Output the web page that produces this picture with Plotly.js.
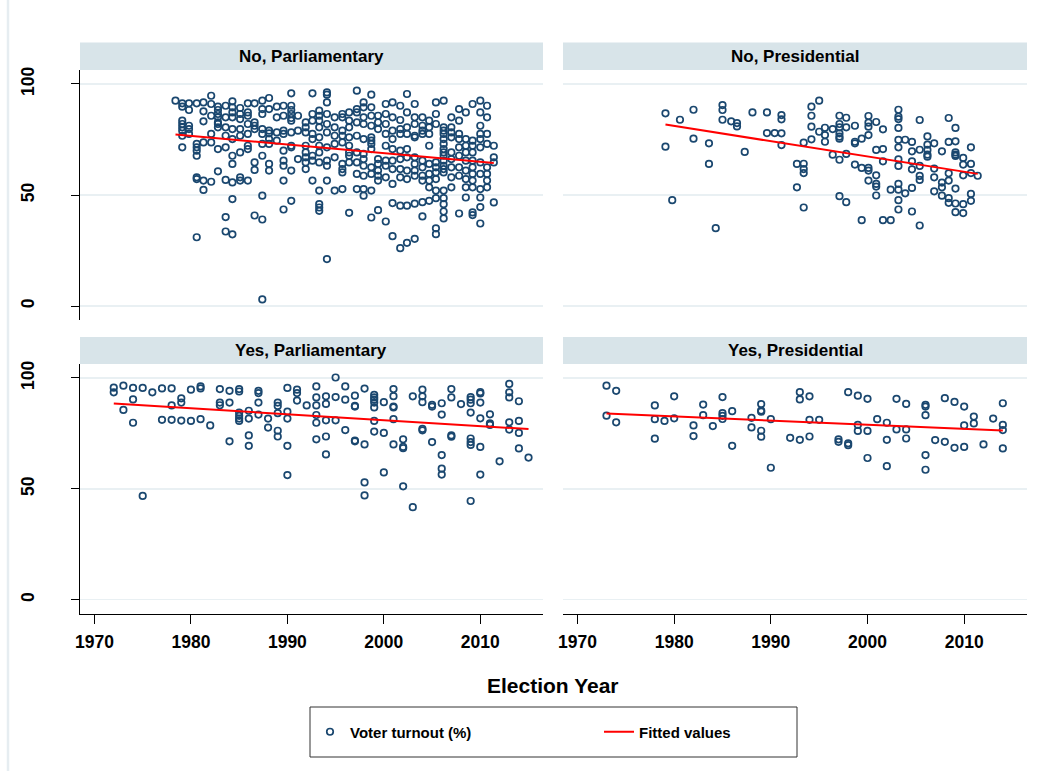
<!DOCTYPE html>
<html>
<head>
<meta charset="utf-8">
<script src="https://cdn.plot.ly/plotly-3.0.1.min.js"></script>
<style>
  html, body { margin: 0; padding: 0; background: #ffffff; }
  #chart { width: 1050px; height: 771px; }
</style>
</head>
<body>
<div id="chart"></div>
<script>
// ---------------- DATA ----------------
const panelTitles = ["No, Parliamentary", "No, Presidential", "Yes, Parliamentary", "Yes, Presidential"];
const xTickVals = [1970, 1980, 1990, 2000, 2010];
const yTickVals = [0, 50, 100];
const xTitle = "Election Year";
const scatterName = "Voter turnout (%)";
const fitName = "Fitted values";

// No, Parliamentary : election years and turnout values at each year
const npYears = [1978.4, 1979.1, 1979.8, 1980.6, 1981.3, 1982.1, 1982.8, 1983.6, 1984.3, 1985.1,
  1985.9, 1986.6, 1987.4, 1988.1, 1988.9, 1989.6, 1990.4, 1991.1, 1991.9, 1992.6,
  1993.3, 1994.1, 1994.9, 1995.7, 1996.4, 1997.2, 1997.9, 1998.7, 1999.4, 2000.2,
  2000.9, 2001.7, 2002.4, 2003.2, 2004.0, 2004.7, 2005.4, 2006.2, 2007.0, 2007.8,
  2008.5, 2009.2, 2010.0, 2010.7, 2011.4];
const npTurnout = [
  [92.5],
  [91.3, 89.8, 83.5, 82.0, 80.5, 79.0, 76.7, 71.5],
  [91.3, 88.3, 81.2, 79.7, 77.5],
  [91.3, 73.0, 71.5, 70.0, 67.7, 58.0, 57.2, 31.0],
  [91.7, 87.7, 83.2, 73.7, 56.5, 52.3],
  [94.7, 91.0, 85.7, 77.5, 73.7, 56.0],
  [89.8, 88.3, 86.5, 85.0, 82.7, 82.0, 80.5, 70.7, 60.7],
  [90.2, 85.0, 80.5, 76.7, 71.5, 56.8, 40.1, 33.6],
  [92.2, 89.5, 87.2, 85.0, 79.7, 75.2, 67.7, 64.0, 55.7, 48.2, 32.3],
  [89.2, 86.5, 84.2, 79.7, 76.7, 69.2, 58.0, 56.5],
  [91.3, 87.2, 85.7, 82.0, 77.5, 72.2, 70.7, 56.5],
  [91.3, 82.7, 81.2, 79.7, 64.7, 61.3, 40.8],
  [92.5, 88.7, 86.5, 79.7, 77.5, 73.0, 67.7, 49.7, 39.0, 3.0],
  [93.7, 88.7, 79.0, 77.8, 75.2, 73.0, 64.0, 61.0],
  [89.8, 85.0, 78.2, 74.5],
  [90.2, 85.7, 79.0, 77.5, 70.0, 65.5, 63.2, 56.5, 43.5],
  [95.8, 90.2, 88.3, 86.5, 84.7, 83.5, 78.2, 72.2, 71.5, 61.0, 47.4],
  [85.7, 79.0, 66.2],
  [82.7, 80.5, 78.2, 72.2, 69.2, 67.0, 64.7, 61.7],
  [95.8, 86.5, 83.5, 77.5, 75.2, 67.7, 65.5, 56.5],
  [88.0, 85.7, 83.5, 80.5, 76.0, 72.2, 69.2, 64.7, 52.0, 45.9, 44.4, 42.9],
  [96.2, 95.2, 91.7, 86.5, 82.0, 78.2, 71.5, 65.5, 63.2, 56.5, 21.2],
  [85.0, 80.5, 76.7, 73.0, 67.0, 52.0],
  [86.5, 85.0, 79.0, 76.7, 73.7, 64.0, 61.7, 60.2, 52.7],
  [87.2, 83.5, 80.5, 76.0, 72.2, 69.2, 67.7, 64.7, 42.0],
  [97.0, 88.7, 87.2, 82.7, 76.7, 69.2, 64.7, 59.5, 52.7],
  [91.7, 89.5, 85.0, 82.0, 75.2, 68.5, 66.2, 63.2, 58.7, 52.7, 49.7],
  [95.2, 89.5, 85.7, 81.2, 76.0, 74.5, 73.0, 70.7, 62.5, 59.5, 52.0, 39.9],
  [85.7, 82.7, 79.7, 66.2, 64.0, 61.0, 58.7, 56.5, 43.2],
  [91.0, 86.5, 82.0, 77.5, 72.2, 65.5, 63.2, 58.0, 38.1],
  [91.7, 85.0, 79.0, 75.2, 70.7, 65.5, 61.7, 55.0, 46.4, 31.5],
  [90.2, 83.8, 79.7, 77.5, 70.0, 66.2, 61.7, 58.0, 45.2, 26.1],
  [95.5, 87.2, 80.5, 77.5, 70.7, 67.0, 61.0, 57.2, 45.2, 28.5],
  [91.0, 85.0, 82.0, 76.7, 76.0, 67.0, 64.0, 61.0, 58.7, 46.1, 30.3],
  [85.0, 81.2, 79.0, 77.5, 65.5, 62.5, 58.7, 56.5, 46.8, 40.4],
  [83.5, 80.5, 77.5, 72.2, 64.0, 59.5, 56.5, 53.5, 47.4],
  [91.7, 86.5, 82.0, 64.7, 62.5, 60.2, 57.2, 52.0, 48.6, 35.0, 32.4],
  [92.5, 80.5, 79.0, 77.5, 75.2, 73.0, 70.7, 69.2, 67.7, 65.5, 63.2, 61.7, 60.2, 52.0, 48.6, 45.9, 42.6, 39.5],
  [85.0, 80.5, 78.2, 76.0, 69.2, 66.2, 62.5, 58.0, 53.5],
  [88.7, 83.5, 77.5, 75.2, 71.5, 67.7, 62.5, 58.7, 41.7],
  [87.2, 75.2, 72.2, 69.2, 65.5, 61.0, 57.2, 53.5, 48.9],
  [91.0, 74.5, 72.2, 69.2, 65.5, 62.5, 59.5, 56.5, 53.5, 42.2, 41.0],
  [92.5, 87.2, 81.2, 77.5, 75.2, 71.5, 64.7, 59.5, 52.7, 48.9, 44.6, 37.2],
  [90.2, 85.0, 77.5, 73.0, 62.5, 59.5, 56.5, 53.5],
  [72.2, 67.0, 64.7, 46.7]
];

// No, Presidential
const nprYears = [1979.1, 1979.8, 1980.6, 1982.0, 1983.6, 1984.3, 1985.0, 1985.9, 1986.5, 1987.3,
  1988.1, 1989.6, 1990.4, 1991.1, 1992.7, 1993.4, 1994.2, 1995.0, 1995.6, 1996.4,
  1997.1, 1997.8, 1998.7, 1999.4, 2000.1, 2000.9, 2001.6, 2002.4, 2003.2, 2003.9,
  2004.6, 2005.4, 2006.2, 2006.9, 2007.7, 2008.4, 2009.1, 2009.9, 2010.7, 2011.4];
const nprTurnout = [
  [86.8, 71.8], [47.7], [83.9], [88.4, 75.4], [73.3, 64.0], [35.1], [90.5, 88.3, 83.9], [83.2],
  [82.4, 80.9], [69.4], [87.2], [87.2, 77.9], [77.9], [86.0, 84.1, 77.8, 72.5], [64.0, 53.5],
  [73.6, 64.1, 61.7, 59.9, 44.4], [89.8, 85.7, 80.8, 75.1], [92.5, 78.5], [80.3, 77.0, 74.0],
  [79.7, 68.2], [85.7, 82.0, 80.5, 77.8, 76.3, 75.4, 65.9, 49.5], [84.8, 80.5, 68.5, 46.8],
  [81.2, 74.0, 73.3, 63.7], [75.4, 62.2, 38.7], [85.6, 82.6, 80.8, 77.0, 62.2, 61.0, 56.5],
  [82.9, 70.3, 58.9, 55.0, 53.8, 49.8], [79.6, 70.7, 65.2, 38.7], [52.4, 38.7],
  [88.4, 85.3, 84.2, 80.2, 74.8, 71.5, 66.1, 63.1, 55.0, 52.4, 47.7, 43.5], [74.9, 50.8],
  [73.9, 69.7, 65.2, 61.6, 53.2, 42.6], [83.8, 70.4, 63.1, 58.6, 56.8, 36.3],
  [76.4, 72.7, 70.3, 68.2, 67.3], [73.3, 61.9, 58.0, 51.7], [69.7, 55.6, 53.5, 49.7],
  [84.7, 73.9, 59.8, 56.5, 48.6, 46.5], [80.2, 74.2, 69.2, 68.2, 67.6, 52.9, 46.2, 42.3],
  [66.7, 63.7, 58.9, 45.9, 41.9], [71.5, 64.0, 59.9, 50.5, 47.4], [58.7]
];

// Yes, Parliamentary
const ypYears = [1972, 1973, 1974, 1975, 1976, 1977, 1978, 1979, 1980, 1981, 1982, 1983, 1984, 1985,
  1986, 1987, 1988, 1989, 1990, 1991, 1992, 1993, 1994, 1995, 1996, 1997, 1998, 1999, 2000,
  2001, 2002, 2003, 2004, 2005, 2006, 2007, 2008, 2009, 2010, 2011, 2012, 2013, 2014, 2015];
const ypTurnout = [
  [95.6, 93.5], [96.5, 85.6], [95.5, 90.3, 79.8], [95.5, 46.8], [93.5], [95.3, 81.1],
  [95.3, 87.6, 81.1], [90.8, 88.9, 80.8], [94.7, 80.6], [96.2, 95.3, 81.4], [78.6],
  [95.0, 88.9, 87.7], [94.2, 88.9, 71.4], [95.0, 93.9, 84.4, 82.9, 81.7, 80.6],
  [85.2, 81.7, 74.1, 69.4], [94.2, 93.2, 88.9, 83.5], [81.7, 77.6],
  [88.9, 87.4, 84.1, 76.2, 73.6], [95.5, 84.8, 81.7, 69.4, 56.2], [94.7, 93.2, 89.8], [87.6],
  [96.2, 91.2, 87.6, 83.3, 79.8, 72.3], [91.7, 88.3, 80.9, 73.6, 65.5], [100.2, 91.4, 80.9],
  [96.2, 90.2, 76.5], [92.0, 87.4, 87.1, 71.8, 71.4], [95.2, 70.0, 52.9, 47.0],
  [92.4, 91.2, 90.2, 88.9, 86.7, 80.6, 75.8], [89.1, 75.2, 57.4],
  [95.0, 91.8, 87.1, 86.7, 81.4, 70.0], [72.3, 68.9, 68.3, 51.1], [91.7, 41.7],
  [94.7, 91.7, 89.1, 77.0, 76.4], [87.9, 87.1, 71.1], [88.6, 83.5, 65.2, 59.1, 56.4],
  [95.0, 91.2, 74.1, 73.5], [88.2], [91.4, 90.2, 88.6, 84.4, 72.7, 71.1, 69.8, 44.5],
  [93.6, 93.0, 88.9, 81.8, 68.9, 56.4], [83.6, 79.5, 78.8], [62.4],
  [97.3, 93.5, 91.2, 80.0, 76.7], [89.5, 80.6, 75.2, 68.2], [64.1]
];

// Yes, Presidential
const yprYears = [1973, 1974, 1978, 1979, 1980, 1982, 1983, 1984, 1985, 1986, 1988, 1989, 1990,
  1992, 1993, 1994, 1995, 1997, 1998, 1999, 2000, 2001, 2002, 2003, 2004, 2006, 2007, 2008,
  2009, 2010, 2011, 2012, 2013, 2014];
const yprTurnout = [
  [96.5, 83.0], [94.2, 80.0], [87.6, 81.4, 72.6], [80.6], [91.7, 81.8], [78.6, 73.8],
  [88.0, 83.2], [78.3], [91.4, 84.1, 82.9, 81.5], [85.0, 69.4], [82.0, 77.7],
  [88.2, 85.3, 84.8, 76.2, 73.5], [81.4, 59.5], [73.0], [93.6, 90.3, 72.1], [91.7, 81.1, 73.6],
  [81.1], [72.3, 71.2], [93.6, 70.5, 69.7], [92.0, 78.8, 76.1], [90.6, 76.1, 63.9], [81.4],
  [79.8, 72.1, 60.2], [90.6, 76.8], [88.3, 76.8, 72.7], [87.9, 87.1, 83.2, 65.2, 58.6], [72.0],
  [90.9, 71.2], [89.2, 68.5], [87.1, 78.6, 68.9], [82.6, 79.5], [70.0], [81.7],
  [88.6, 78.8, 76.5, 68.2]
];

// ---------------- BUILD ----------------
const W = 1050, H = 771;
const px = v => v / W;
const py = v => 1 - v / H;

function flatten(years, vals) {
  const x = [], y = [];
  years.forEach((yr, i) => vals[i].forEach(v => { x.push(yr); y.push(v); }));
  return {x, y};
}
function fit(d) {
  const n = d.x.length;
  let sx = 0, sy = 0, sxx = 0, sxy = 0;
  for (let i = 0; i < n; i++) { sx += d.x[i]; sy += d.y[i]; sxx += d.x[i] * d.x[i]; sxy += d.x[i] * d.y[i]; }
  const b = (n * sxy - sx * sy) / (n * sxx - sx * sx);
  const a = (sy - b * sx) / n;
  const x0 = Math.min(...d.x), x1 = Math.max(...d.x);
  return {x: [x0, x1], y: [a + b * x0, a + b * x1]};
}

const panels = [
  flatten(npYears, npTurnout),
  flatten(nprYears, nprTurnout),
  flatten(ypYears, ypTurnout),
  flatten(yprYears, yprTurnout)
];

const navy = '#1a476f';
const traces = [];
panels.forEach((d, i) => {
  const xa = i === 0 ? 'x' : 'x' + (i + 1);
  const ya = i === 0 ? 'y' : 'y' + (i + 1);
  traces.push({
    type: 'scatter', mode: 'markers', x: d.x, y: d.y, xaxis: xa, yaxis: ya,
    name: scatterName, legendgroup: 'a', showlegend: i === 0,
    marker: {symbol: 'circle-open', size: 6.5, color: navy, line: {width: 1.7, color: navy}},
    cliponaxis: false
  });
});
panels.forEach((d, i) => {
  const xa = i === 0 ? 'x' : 'x' + (i + 1);
  const ya = i === 0 ? 'y' : 'y' + (i + 1);
  const f = fit(d);
  traces.push({
    type: 'scatter', mode: 'lines', x: f.x, y: f.y, xaxis: xa, yaxis: ya,
    name: fitName, legendgroup: 'b', showlegend: i === 0,
    line: {color: '#ff0000', width: 2}
  });
});

const FONT = 'Liberation Sans, Arial, sans-serif';
const xRange = [1968.5, 2016.5];
const yRange = [-6.25, 106.3];
const colL = [px(80), px(543)];
const colR = [px(563), px(1027)];
const rowT = [py(320), py(70)];
const rowB = [py(613.5), py(364)];

function xAxis(domain, anchor, showTicks) {
  return {
    domain, anchor, range: xRange, showgrid: false, zeroline: false,
    showline: showTicks, linecolor: '#000', linewidth: 1,
    ticks: showTicks ? 'outside' : '', ticklen: 9, tickwidth: 1, tickcolor: '#000',
    tickvals: xTickVals, showticklabels: showTicks, ticklabelstandoff: 3,
    tickfont: {family: FONT, size: 17.5, color: '#000', weight: 'bold'}
  };
}
function yAxis(domain, anchor, showTicks) {
  return {
    domain, anchor, range: yRange, zeroline: false,
    showgrid: true, gridcolor: '#e9f0f3', gridwidth: 1.5,
    showline: showTicks, linecolor: '#000', linewidth: 1,
    ticks: showTicks ? 'outside' : '', ticklen: 8, tickwidth: 1, tickcolor: '#000',
    tickvals: yTickVals, showticklabels: showTicks, tickangle: -90, ticklabelstandoff: 30,
    tickfont: {family: FONT, size: 17.5, color: '#000', weight: 'bold'}
  };
}

const stripFill = '#d8e4e9';
const shapes = [
  {type: 'line', xref: 'paper', yref: 'paper', x0: px(8), x1: px(8), y0: 0, y1: 1, line: {color: '#e6edf1', width: 2.5}},
  {type: 'rect', xref: 'paper', yref: 'paper', x0: colL[0], x1: colL[1], y0: py(70), y1: py(42.5), fillcolor: stripFill, line: {width: 0}, layer: 'below'},
  {type: 'rect', xref: 'paper', yref: 'paper', x0: colR[0], x1: colR[1], y0: py(70), y1: py(42.5), fillcolor: stripFill, line: {width: 0}, layer: 'below'},
  {type: 'rect', xref: 'paper', yref: 'paper', x0: colL[0], x1: colL[1], y0: py(364), y1: py(337), fillcolor: stripFill, line: {width: 0}, layer: 'below'},
  {type: 'rect', xref: 'paper', yref: 'paper', x0: colR[0], x1: colR[1], y0: py(364), y1: py(337), fillcolor: stripFill, line: {width: 0}, layer: 'below'},
  {type: 'rect', xref: 'paper', yref: 'paper', x0: px(310), x1: px(797), y0: py(757), y1: py(707), line: {color: '#333', width: 1}, fillcolor: 'rgba(0,0,0,0)'}
];

const titleFont = {family: FONT, size: 17, color: '#000', weight: 'bold'};
const annotations = [
  {text: panelTitles[0], x: (colL[0] + colL[1]) / 2, y: py(56.5)},
  {text: panelTitles[1], x: (colR[0] + colR[1]) / 2, y: py(56.5)},
  {text: panelTitles[2], x: (colL[0] + colL[1]) / 2, y: py(350.5)},
  {text: panelTitles[3], x: (colR[0] + colR[1]) / 2, y: py(350.5)}
].map(a => Object.assign({xref: 'paper', yref: 'paper', showarrow: false, xanchor: 'center', yanchor: 'middle', font: titleFont}, a));
annotations.push({
  text: xTitle, xref: 'paper', yref: 'paper', x: px(553), y: py(685), showarrow: false,
  xanchor: 'center', yanchor: 'middle', font: {family: FONT, size: 21, color: '#000', weight: 'bold'}
});

const layout = {
  width: W, height: H,
  margin: {l: 0, r: 0, t: 0, b: 0, pad: 0},
  paper_bgcolor: '#ffffff', plot_bgcolor: '#ffffff',
  font: {family: FONT, color: '#000'},
  showlegend: true,
  legend: {
    orientation: 'h', x: px(310), xanchor: 'left', y: py(732), yanchor: 'middle',
    bgcolor: 'rgba(0,0,0,0)', borderwidth: 0, traceorder: 'normal',
    entrywidth: 244, entrywidthmode: 'pixels',
    font: {family: FONT, size: 15, color: '#000', weight: 'bold'}
  },
  xaxis: xAxis(colL, 'y', false),
  yaxis: yAxis(rowT, 'x', true),
  xaxis2: xAxis(colR, 'y2', false),
  yaxis2: yAxis(rowT, 'x2', false),
  xaxis3: xAxis(colL, 'y3', true),
  yaxis3: yAxis(rowB, 'x3', true),
  xaxis4: xAxis(colR, 'y4', true),
  yaxis4: yAxis(rowB, 'x4', false),
  shapes, annotations
};

Plotly.newPlot('chart', traces, layout, {displayModeBar: false, staticPlot: true});
</script>
</body>
</html>
